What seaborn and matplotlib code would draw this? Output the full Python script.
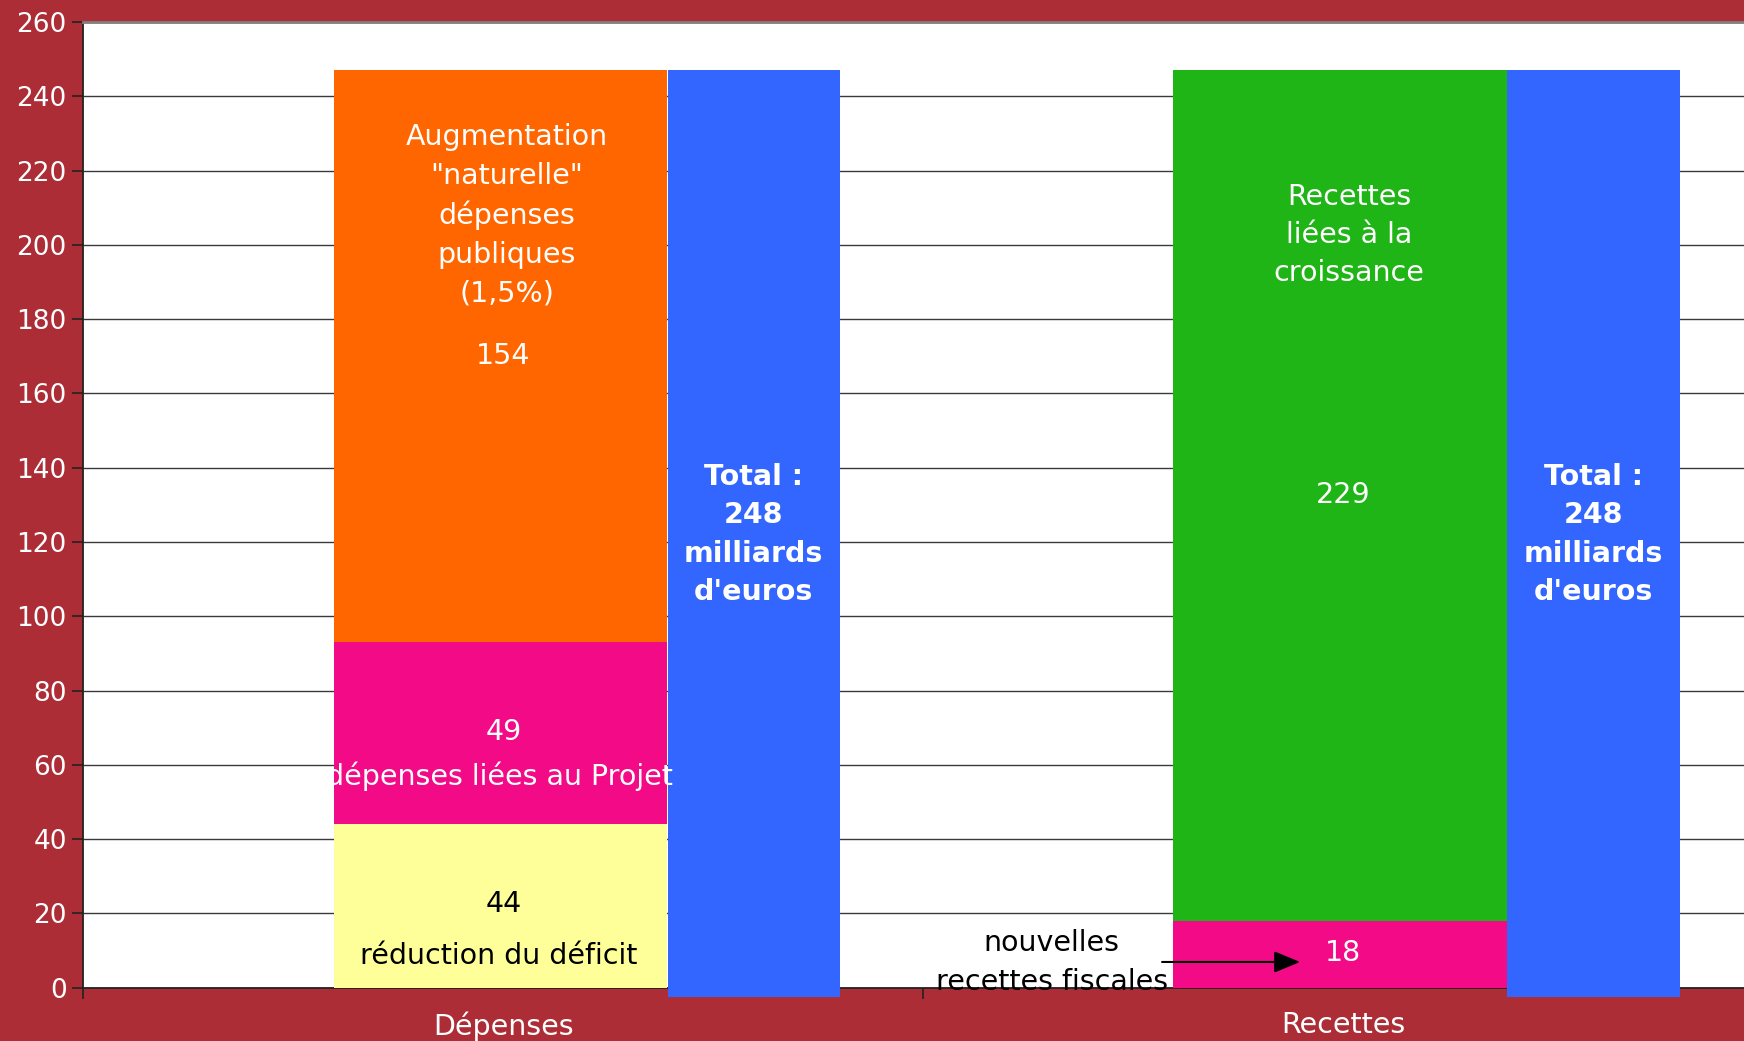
import matplotlib
matplotlib.use("Agg")
import matplotlib.pyplot as plt
import seaborn as sns

# ---- data ----
categories = ["Dépenses", "Recettes"]
dep_segments = [44, 49, 154]          # réduction du déficit, dépenses Projet, augmentation naturelle
rec_segments = [18, 229]              # nouvelles recettes fiscales, recettes croissance
total_bar = [249.6, 249.6]            # "Total : 248" bars (drawn from slightly below zero)
y_ticks = list(range(0, 261, 20))

dep_colors = ["#FFFF99", "#F20A87", "#FF6600"]
rec_colors = ["#F20A87", "#20B516"]
blue = "#3366FF"
bg = "#AD2D37"

sns.set_style("white")
plt.rcParams["font.family"] = ["DejaVu Sans"]

fig = plt.figure(figsize=(17.44, 10.41), dpi=100, facecolor=bg)
ax = fig.add_axes([0.0478, 0.0513, 1.011 - 0.0478, 0.9787 - 0.0513])
ax.set_facecolor("white")

# stacked bars
w_main = 0.397
bottom = 0
for v, c in zip(dep_segments, dep_colors):
    ax.bar(-0.0035, v, width=w_main, bottom=bottom, color=c, linewidth=0, zorder=3)
    bottom += v
bottom = 0
for v, c in zip(rec_segments, rec_colors):
    ax.bar(1 - 0.004, v, width=w_main, bottom=bottom, color=c, linewidth=0, zorder=3)
    bottom += v

# total bars
for i, t in enumerate(total_bar):
    ax.bar(i + 0.298, t, width=0.205, bottom=-2.4, color=blue, linewidth=0,
           zorder=3, clip_on=False)

ax.set_xlim(-0.5, 1.5)
ax.set_ylim(0, 260)
ax.set_yticks(y_ticks)
ax.yaxis.grid(True, color="#3a3a3a", linewidth=1.0, zorder=0)
ax.set_axisbelow(True)
ax.tick_params(axis="y", labelcolor="white", labelsize=19, length=8, width=1.2,
               direction="out", left=True, color="#222222", pad=4)

ax.set_xticks([0, 1])
ax.set_xticklabels(categories)
ax.tick_params(axis="x", which="major", length=0, labelsize=20.5, labelcolor="white", pad=17)
ax.set_xticks([-0.5, 0.5], minor=True)
ax.tick_params(axis="x", which="minor", length=8, width=1.2, color="#222222",
               direction="out", bottom=True)

for s in ["left", "bottom"]:
    ax.spines[s].set_color("#222222")
    ax.spines[s].set_linewidth(1.3)
ax.spines["top"].set_color("#808080")
ax.spines["top"].set_linewidth(2)
ax.spines["right"].set_visible(False)

fs = 20.5
ls = 1.47
# Dépenses labels
ax.text(0.004, 208.0, "Augmentation\n\"naturelle\"\ndépenses\npubliques\n(1,5%)",
        ha="center", va="center", color="white", fontsize=fs, linespacing=ls, zorder=5)
ax.text(0.0, 170.1, f"{dep_segments[2]}", ha="center", va="center", color="white", fontsize=fs, zorder=5)
ax.text(0.0, 68.9, f"{dep_segments[1]}", ha="center", va="center", color="white", fontsize=fs, zorder=5)
ax.text(-0.005, 56.9, "dépenses liées au Projet", ha="center", va="center", color="white",
        fontsize=fs, zorder=5)
ax.text(0.0, 22.5, f"{dep_segments[0]}", ha="center", va="center", color="black", fontsize=fs, zorder=5)
ax.text(-0.006, 8.4, "réduction du déficit", ha="center", va="center", color="black",
        fontsize=fs, zorder=5)

# Recettes labels
ax.text(1.007, 202.7, "Recettes\nliées à la\ncroissance", ha="center", va="center",
        color="white", fontsize=fs, linespacing=ls, zorder=5)
ax.text(1.0, 132.7, f"{rec_segments[1]}", ha="center", va="center", color="white", fontsize=fs, zorder=5)
ax.text(1.0, 9.3, f"{rec_segments[0]}", ha="center", va="center", color="white", fontsize=fs, zorder=5)

# Totals
for i in range(2):
    ax.text(i + 0.298, 122.0, "Total :\n248\nmilliards\nd'euros", ha="center", va="center",
            color="white", fontsize=fs, fontweight="bold", linespacing=ls, zorder=5)

# annotation
ax.text(0.653, 6.8, "nouvelles\nrecettes fiscales", ha="center", va="center", color="black",
        fontsize=fs, linespacing=ls, zorder=6, clip_on=False)
ax.annotate("", xy=(0.952, 6.9), xytext=(0.781, 6.9),
            arrowprops=dict(arrowstyle="-|>,head_length=0.8,head_width=0.33",
                            mutation_scale=20, color="black", lw=1.5), zorder=6)

fig.savefig("out.png", dpi=100, facecolor=bg)
